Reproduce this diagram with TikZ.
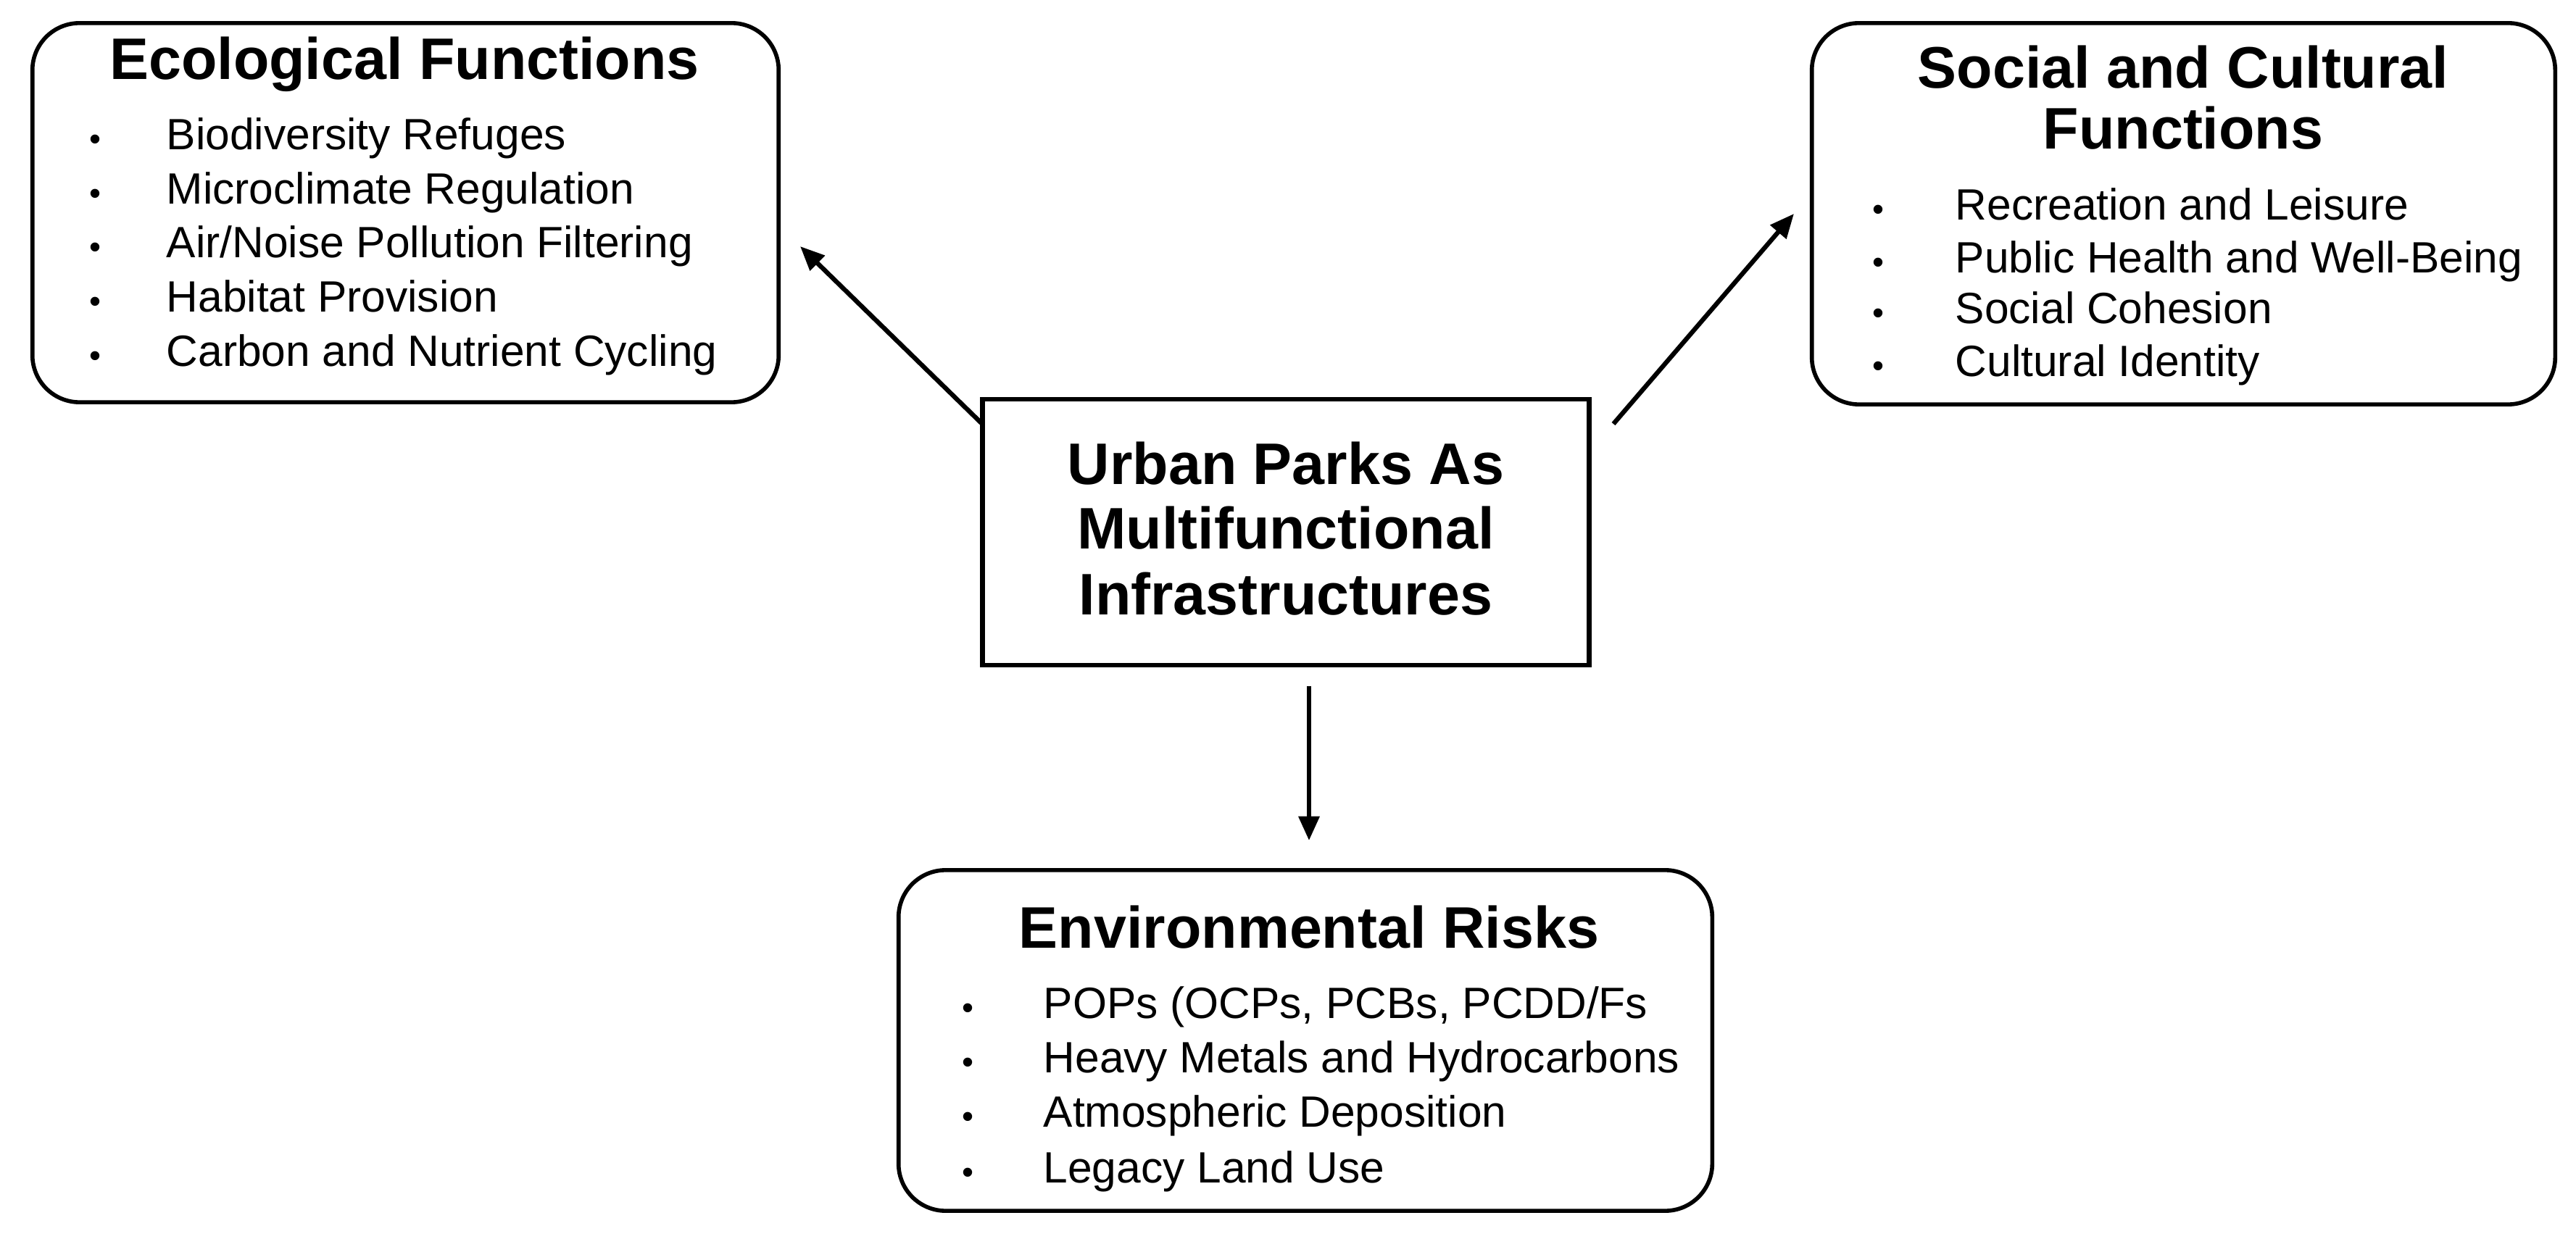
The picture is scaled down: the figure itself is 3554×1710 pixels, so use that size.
\documentclass[tikz,border=0pt]{standalone}
\usepackage{fontspec}
\setmainfont{Liberation Sans}
\usetikzlibrary{arrows.meta}
\tikzset{
  rbox/.style={draw=black, line width=1.6pt, rounded corners=0.65cm, inner sep=0pt},
  cbox/.style={draw=black, line width=1.9pt, inner sep=0pt},
  ttl/.style={font=\fontsize{23pt}{25pt}\selectfont\bfseries, anchor=mid, inner sep=0pt},
  itm/.style={font=\fontsize{17.2pt}{20pt}\selectfont, anchor=mid west, inner sep=0pt},
  bul/.style={font=\fontsize{13pt}{15pt}\selectfont, anchor=center, inner sep=0pt},
  arr/.style={line width=1.8pt, -{Triangle[length=9.5pt,width=8pt]}}
}
\begin{document}
\begin{tikzpicture}[x=0.01cm,y=-0.01cm]
\useasboundingbox[fill=white] (0,0) rectangle (3554,1710);
% boxes
\node[rbox, minimum width=10.29cm, minimum height=5.23cm] (eco) at (559.5,293.5) {};
\node[rbox, minimum width=10.25cm, minimum height=5.26cm] (soc) at (3012.5,295) {};
\node[cbox, minimum width=8.36cm, minimum height=3.67cm] (ctr) at (1774,734.5) {};
\node[rbox, minimum width=11.22cm, minimum height=4.70cm] (env) at (1801,1436) {};
% ecological
\node[ttl] (ecot) at (558,100) {Ecological Functions};
\node[bul] (ecob1) at (131,197) {•}; \node[itm] (eco1) at (229,197) {Biodiversity Refuges};
\node[bul] (ecob2) at (131,272) {•}; \node[itm] (eco2) at (229,272) {Microclimate Regulation};
\node[bul] (ecob3) at (131,346) {•}; \node[itm] (eco3) at (229,346) {Air/Noise Pollution Filtering};
\node[bul] (ecob4) at (131,421) {•}; \node[itm] (eco4) at (229,421) {Habitat Provision};
\node[bul] (ecob5) at (131,496) {•}; \node[itm] (eco5) at (229,496) {Carbon and Nutrient Cycling};
% social
\node[ttl] (soct1) at (3012,112) {Social and Cultural};
\node[ttl] (soct2) at (3012,196) {Functions};
\node[bul] (socb1) at (2591,294) {•}; \node[itm] (soc1) at (2697,294) {Recreation and Leisure};
\node[bul] (socb2) at (2591,367) {•}; \node[itm] (soc2) at (2697,367) {Public Health and Well-Being};
\node[bul] (socb3) at (2591,437) {•}; \node[itm] (soc3) at (2697,437) {Social Cohesion};
\node[bul] (socb4) at (2591,510) {•}; \node[itm] (soc4) at (2697,510) {Cultural Identity};
% center
\node[ttl] (ct1) at (1774,659) {Urban Parks As};
\node[ttl] (ct2) at (1774,748) {Multifunctional};
\node[ttl] (ct3) at (1774,839) {Infrastructures};
% environmental
\node[ttl] (envt) at (1806,1299) {Environmental Risks};
\node[bul] (envb1) at (1335,1396) {•}; \node[itm] (env1) at (1439,1396) {POPs (OCPs, PCBs, PCDD/Fs};
\node[bul] (envb2) at (1335,1471) {•}; \node[itm] (env2) at (1439,1471) {Heavy Metals and Hydrocarbons};
\node[bul] (envb3) at (1335,1546) {•}; \node[itm] (env3) at (1439,1546) {Atmospheric Deposition};
\node[bul] (envb4) at (1335,1623) {•}; \node[itm] (env4) at (1439,1623) {Legacy Land Use};
% arrows
\coordinate (a1s) at (1355,585);
\coordinate (a1e) at (1104,340);
\coordinate (a2s) at (2226,585);
\coordinate (a2e) at (2475,295);
\coordinate (a3s) at (1806,947);
\coordinate (a3e) at (1806,1160);
\draw[arr] (a1s) -- (a1e);
\draw[arr] (a2s) -- (a2e);
\draw[arr] (a3s) -- (a3e);
\end{tikzpicture}
\end{document}
